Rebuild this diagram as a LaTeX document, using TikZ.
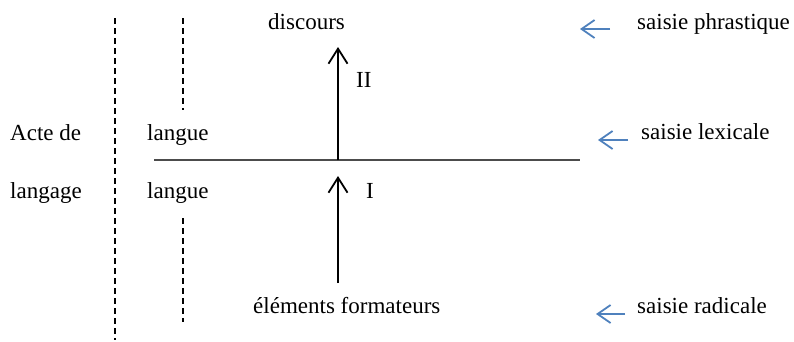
\documentclass[tikz,border=0pt]{standalone}
\usepackage{fontspec}
\setmainfont{Liberation Serif}
\usetikzlibrary{arrows.meta}
\definecolor{wordblue}{RGB}{79,129,189}
\begin{document}
\begin{tikzpicture}[x=1pt,y=-1pt,
  lbl/.style={anchor=base west,inner sep=0pt,font=\fontsize{23}{27}\selectfont},
  dashline/.style={line width=1.3pt,dash pattern=on 6pt off 4pt},
  blackarrow/.style={line width=1.8pt,-{Straight Barb[length=15pt,width=19pt,line width=1.8pt]}},
  bluearrow/.style={wordblue,line width=1.8pt,-{Straight Barb[length=13pt,width=18pt,line width=1.8pt]}}]
\useasboundingbox (0,0) rectangle (794,341);
% texts
\node[lbl] (discours) at (268,29) {discours};
\node[lbl] (phr) at (637,29) {saisie phrastique};
\node[lbl] (acte) at (10,140) {Acte de};
\node[lbl] (langue1) at (147,140) {langue};
\node[lbl] (lex) at (641,139) {saisie lexicale};
\node[lbl] (langage) at (10,198) {langage};
\node[lbl] (langue2) at (147,198) {langue};
\node[lbl] (II) at (356,87) {II};
\node[lbl] (I) at (366,198) {I};
\node[lbl] (elem) at (253,313) {éléments formateurs};
\node[lbl] (rad) at (637,313) {saisie radicale};
% coordinates
\coordinate (hl) at (154,160);
\coordinate (hr) at (580,160);
\coordinate (a1s) at (338,160);
\coordinate (a1e) at (338,47);
\coordinate (a2s) at (338,283);
\coordinate (a2e) at (338,176);
\coordinate (d1t) at (115,18);
\coordinate (d1b) at (115,340);
\coordinate (d2t) at (183,18);
\coordinate (d2b) at (183,110);
\coordinate (d3t) at (183,218);
\coordinate (d3b) at (183,322);
\coordinate (b1s) at (610,29);
\coordinate (b1e) at (580,29);
\coordinate (b2s) at (628,140);
\coordinate (b2e) at (598,140);
\coordinate (b3s) at (625,314);
\coordinate (b3e) at (596,314);
% lines
\draw[line width=1.3pt,black!70] (hl) -- (hr);
\draw[blackarrow] (a1s) -- (a1e);
\draw[blackarrow] (a2s) -- (a2e);
\draw[dashline] (d1t) -- (d1b);
\draw[dashline] (d2t) -- (d2b);
\draw[dashline] (d3t) -- (d3b);
\draw[bluearrow] (b1s) -- (b1e);
\draw[bluearrow] (b2s) -- (b2e);
\draw[bluearrow] (b3s) -- (b3e);
\end{tikzpicture}
\end{document}
